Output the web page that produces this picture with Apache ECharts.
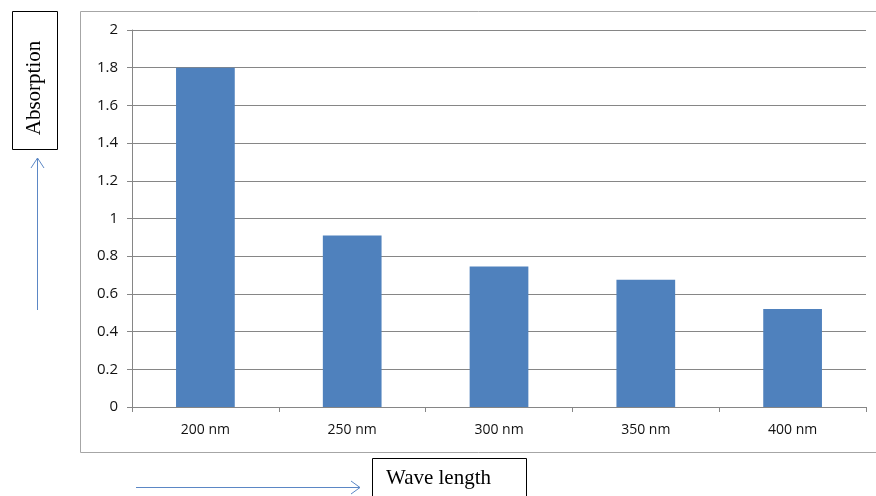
<!DOCTYPE html>
<html>
<head>
<meta charset="utf-8">
<script src="https://cdn.jsdelivr.net/npm/echarts@6/dist/echarts.min.js"></script>
<style>html,body{margin:0;padding:0;background:#fff;}#c{width:876px;height:496px;}</style>
</head>
<body>
<div id="c"></div>
<script>
var categories = ['200 nm', '250 nm', '300 nm', '350 nm', '400 nm'];
var absorption = [1.8, 0.91, 0.745, 0.675, 0.52];
var yTicks = { min: 0, max: 2, interval: 0.2 };
var yTitle = 'Absorption';
var xTitle = 'Wave length';

var chart = echarts.init(document.getElementById('c'), null, { renderer: 'canvas' });
var gray = '#868686';
var arrowColor = '#5b87c5';
chart.setOption({
  animation: false,
  backgroundColor: '#fff',
  grid: { left: 132, right: 10, top: 30, bottom: 89, containLabel: false },
  xAxis: {
    type: 'category',
    data: categories,
    axisLine: { show: true, lineStyle: { color: gray, width: 1 } },
    axisTick: { show: true, length: 5, lineStyle: { color: gray } },
    axisLabel: { color: '#111', fontFamily: 'Open Sans', fontSize: 14, margin: 16 },
    splitLine: { show: false }
  },
  yAxis: {
    type: 'value',
    min: yTicks.min, max: yTicks.max, interval: yTicks.interval,
    axisLine: { show: true, lineStyle: { color: gray, width: 1 } },
    axisTick: { show: true, length: 5, lineStyle: { color: gray } },
    axisLabel: { color: '#111', fontFamily: 'Open Sans', fontSize: 15, margin: 14 },
    splitLine: { show: true, lineStyle: { color: gray, width: 1 } }
  },
  series: [{
    type: 'bar',
    data: absorption,
    barWidth: '40%',
    itemStyle: { color: '#4f81bd' }
  }],
  graphic: [
    { type: 'rect', shape: { x: 80.5, y: 11.5, width: 820, height: 441 }, style: { fill: 'none', stroke: '#a6a6a6', lineWidth: 1 }, z: -1 },
    { type: 'rect', shape: { x: 12.5, y: 11.5, width: 45, height: 138 }, style: { fill: '#fff', stroke: '#000', lineWidth: 1 } },
    { type: 'text', x: 34, y: 88, rotation: Math.PI / 2, style: { text: yTitle, font: '21px "Liberation Serif"', fill: '#000', align: 'center', verticalAlign: 'middle' } },
    { type: 'line', shape: { x1: 37.5, y1: 310, x2: 37.5, y2: 158 }, style: { stroke: arrowColor, lineWidth: 1 } },
    { type: 'polyline', shape: { points: [[31, 168], [37.5, 158], [44, 168]] }, style: { fill: 'none', stroke: arrowColor, lineWidth: 1 } },
    { type: 'rect', shape: { x: 372.5, y: 458.5, width: 154, height: 60 }, style: { fill: '#fff', stroke: '#000', lineWidth: 1 } },
    { type: 'text', x: 386, y: 478, style: { text: xTitle, font: '21px "Liberation Serif"', fill: '#000', align: 'left', verticalAlign: 'middle' } },
    { type: 'line', shape: { x1: 136, y1: 487.5, x2: 360, y2: 487.5 }, style: { stroke: arrowColor, lineWidth: 1 } },
    { type: 'polyline', shape: { points: [[351, 481], [360, 487.5], [351, 494]] }, style: { fill: 'none', stroke: arrowColor, lineWidth: 1 } }
  ]
});
</script>
</body>
</html>
